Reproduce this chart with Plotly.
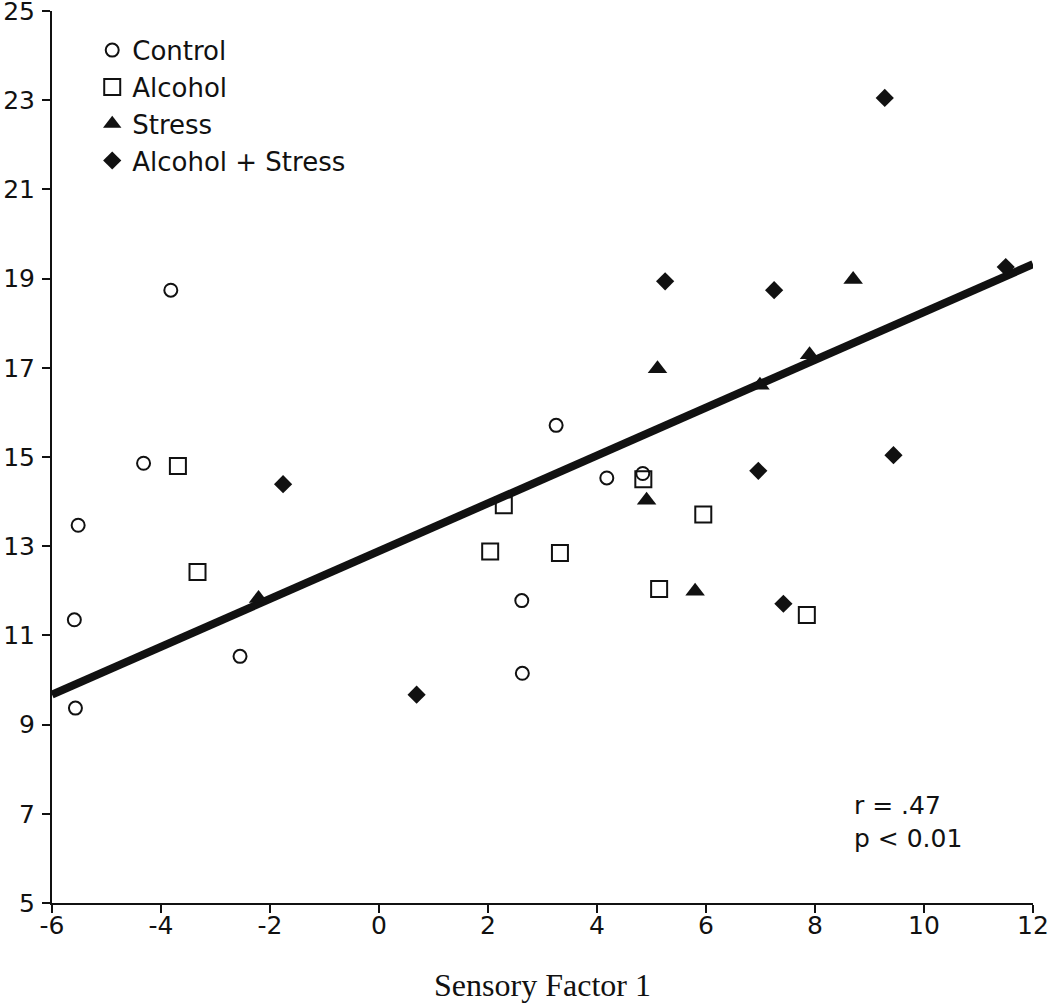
import plotly.graph_objects as go

# ---- data ----
control_x = [-3.82, -4.32, -5.52, -5.59, -2.55, -5.57, 3.25, 4.18, 4.84, 2.62, 2.63]
control_y = [18.74, 14.86, 13.47, 11.35, 10.53, 9.37, 15.71, 14.53, 14.63, 11.78, 10.15]

alcohol_x = [-3.69, -3.33, 4.85, 2.29, 5.95, 2.04, 3.32, 5.14, 7.85]
alcohol_y = [14.80, 12.42, 14.50, 13.92, 13.71, 12.88, 12.85, 12.04, 11.46]

stress_x = [-2.21, 5.11, 4.91, 5.80, 8.70, 7.90, 6.99]
stress_y = [11.83, 16.98, 14.03, 11.99, 18.98, 17.29, 16.61]

alcstress_x = [-1.76, 0.69, 9.28, 5.25, 7.25, 11.50, 6.96, 9.44, 7.42]
alcstress_y = [14.39, 9.67, 23.05, 18.94, 18.74, 19.26, 14.69, 15.04, 11.71]

fit_intercept = 12.89
fit_slope = 0.536

x_range = [-6, 12]
y_range = [5, 25]
x_ticks = [-6, -4, -2, 0, 2, 4, 6, 8, 10, 12]
x_ticklabels = ["-6", "-4", "-2", "0", "2", "4", "6", "8", "10", "12"]
y_ticks = [5, 7, 9, 11, 13, 15, 17, 19, 21, 23, 25]
y_ticklabels = ["5", "7", "9", "11", "13", "15", "17", "19", "21", "23", "25"]

stats_text = "r = .47<br>p < 0.01"
x_title = "Sensory Factor 1"

INK = "#111111"
SANS = "DejaVu Sans"
SERIF = "Liberation Serif"

fig = go.Figure()

fit_x = [x_range[0], x_range[1]]
fit_y = [fit_intercept + fit_slope * v for v in fit_x]
fig.add_trace(go.Scatter(x=fit_x, y=fit_y, mode="lines",
                         line=dict(color=INK, width=8),
                         showlegend=False, hoverinfo="skip"))

fig.add_trace(go.Scatter(x=control_x, y=control_y, mode="markers", name="Control",
                         marker=dict(symbol="circle-open", size=13, color=INK,
                                     line=dict(width=2, color=INK))))
fig.add_trace(go.Scatter(x=alcohol_x, y=alcohol_y, mode="markers", name="Alcohol",
                         marker=dict(symbol="square-open", size=16, color=INK,
                                     line=dict(width=2, color=INK))))
fig.add_trace(go.Scatter(x=stress_x, y=stress_y, mode="markers", name="Stress",
                         marker=dict(symbol="triangle-up", size=17, color=INK)))
fig.add_trace(go.Scatter(x=alcstress_x, y=alcstress_y, mode="markers", name="Alcohol + Stress",
                         marker=dict(symbol="diamond", size=14, color=INK)))

fig.update_traces(cliponaxis=False)

fig.add_annotation(x=8.67, y=7.55, xref="x", yref="y", text=stats_text,
                   showarrow=False, xanchor="left", yanchor="top", align="left",
                   font=dict(family=SANS, size=25, color=INK))

fig.update_layout(
    width=1050, height=1003,
    margin=dict(l=52, r=17, t=11, b=100, autoexpand=False),
    paper_bgcolor="white", plot_bgcolor="white",
    font=dict(family=SANS, color=INK),
    showlegend=True,
    legend=dict(x=0.041, y=0.9824, xanchor="left", yanchor="top",
                bgcolor="rgba(0,0,0,0)", borderwidth=0,
                font=dict(family=SANS, size=26, color=INK),
                itemsizing="trace", tracegroupgap=0),
    xaxis=dict(range=x_range, tickvals=x_ticks, ticktext=x_ticklabels,
               showgrid=False, zeroline=False, automargin=False,
               showline=True, linecolor=INK, linewidth=2,
               ticks="outside", ticklen=8, tickwidth=2, tickcolor=INK,
               ticklabelstandoff=-9, ticklabeloverflow="allow",
               tickfont=dict(family=SANS, size=25, color=INK),
               title=dict(text=x_title, font=dict(family=SERIF, size=32, color=INK),
                          standoff=36)),
    yaxis=dict(range=y_range, tickvals=y_ticks, ticktext=y_ticklabels,
               showgrid=False, zeroline=False, automargin=False,
               showline=True, linecolor=INK, linewidth=2,
               ticks="outside", ticklen=8, tickwidth=2, tickcolor=INK,
               ticklabelstandoff=2, ticklabeloverflow="allow",
               tickfont=dict(family=SANS, size=25, color=INK)),
)

fig.write_html("out.html", config={"displayModeBar": False},
               post_script="document.body.style.margin='0';")
